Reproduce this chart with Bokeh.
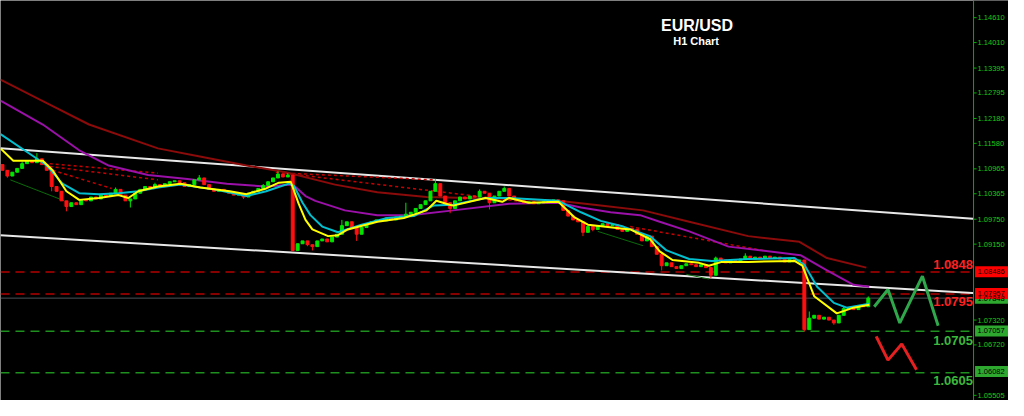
from bokeh.plotting import figure
from bokeh.models import ColumnDataSource, Range1d, Span
from bokeh.core.properties import value
from bokeh.embed import file_html
from bokeh.resources import INLINE

# ---------------- data (EUR/USD, H1) ----------------
first_open = 1.11068
closes = [
    1.10930, 1.10792, 1.10884, 1.10976, 1.11091, 1.11160, 1.11114, 1.11206, 1.11068, 1.10930,
    1.10539, 1.10424, 1.10194, 1.10056, 1.10148, 1.10102, 1.10217, 1.10194, 1.10286, 1.10240,
    1.10332, 1.10309, 1.10378, 1.10470, 1.10332, 1.10194, 1.10240, 1.10378, 1.10470, 1.10539,
    1.10516, 1.10585, 1.10539, 1.10608, 1.10654, 1.10677, 1.10631, 1.10539, 1.10585, 1.10700,
    1.10746, 1.10585, 1.10470, 1.10424, 1.10470, 1.10424, 1.10378, 1.10332, 1.10355, 1.10286,
    1.10378, 1.10424, 1.10493, 1.10562, 1.10654, 1.10746, 1.10838, 1.10769, 1.10815, 1.08998,
    1.09159, 1.09228, 1.09136, 1.09090, 1.09228, 1.09274, 1.09205, 1.09320, 1.09389, 1.09596,
    1.09688, 1.09550, 1.09389, 1.09550, 1.09642, 1.09688, 1.09734, 1.09711, 1.09780, 1.09734,
    1.09803, 1.09826, 1.09872, 1.09918, 1.10010, 1.10102, 1.10194, 1.10424, 1.10608, 1.10309,
    1.10148, 1.10010, 1.10194, 1.10286, 1.10240, 1.10309, 1.10286, 1.10424, 1.10378, 1.10148,
    1.10309, 1.10424, 1.10493, 1.10309, 1.10240, 1.10194, 1.10148, 1.10171, 1.10125, 1.10148,
    1.10171, 1.10194, 1.10217, 1.10194, 1.09964, 1.09826, 1.09734, 1.09688, 1.09435, 1.09573,
    1.09504, 1.09596, 1.09642, 1.09596, 1.09619, 1.09504, 1.09458, 1.09527, 1.09504, 1.09389,
    1.09228, 1.09343, 1.09090, 1.08906, 1.08630, 1.08699, 1.08607, 1.08561, 1.08630, 1.08676,
    1.08653, 1.08607, 1.08653, 1.08584, 1.08400, 1.08814, 1.08768, 1.08699, 1.08768, 1.08722,
    1.08791, 1.08860, 1.08791, 1.08837, 1.08814, 1.08860, 1.08814, 1.08837, 1.08791, 1.08722,
    1.08791, 1.08745, 1.08768, 1.07089, 1.07365, 1.07434, 1.07342, 1.07388, 1.07319, 1.07250,
    1.07434, 1.07595, 1.07618, 1.07572, 1.07664, 1.07641, 1.07848,
]
wick_highs = {4: 1.11140, 7: 1.11344, 23: 1.10516, 31: 1.10630, 40: 1.10815, 53: 1.10600,
              56: 1.10907, 58: 1.10860, 69: 1.09734, 82: 1.10148, 88: 1.10723, 97: 1.10470,
              102: 1.10540, 145: 1.08850, 151: 1.08929, 164: 1.07526, 171: 1.07640, 176: 1.07890}
wick_lows = {1: 1.10750, 10: 1.10424, 13: 1.09941, 26: 1.10033, 49: 1.10240, 59: 1.08975,
             62: 1.09100, 63: 1.08998, 72: 1.09228, 91: 1.09895, 99: 1.09987, 118: 1.09343,
             120: 1.09460, 134: 1.08515, 144: 1.08331, 163: 1.07043, 164: 1.07181, 169: 1.07204}

# moving averages (bar index, price)
ma_slow_x = [0, 8, 18, 32, 40, 50, 58, 68, 76.6, 86.6, 104, 113.4, 122, 130.6, 140, 152, 162.4, 168, 176]
ma_slow_y = [1.13115, 1.12632, 1.12034, 1.11459, 1.11275, 1.11045, 1.10884, 1.10585, 1.10401, 1.10286,
             1.10240, 1.10194, 1.10079, 1.09964, 1.09688, 1.09343, 1.09205, 1.08814, 1.08584]
ma_mid_x = [0, 8.6, 16, 22, 30, 38, 46, 54, 59.4, 62, 64, 70, 76.6, 83.4, 92, 103.4, 113.4, 118, 124,
            130, 134, 140, 148, 162.6, 168, 173.4, 176.6]
ma_mid_y = [1.12609, 1.12034, 1.11413, 1.11045, 1.10815, 1.10723, 1.10608, 1.10539, 1.10585, 1.10309,
            1.10194, 1.09964, 1.09849, 1.09849, 1.09964, 1.10125, 1.10148, 1.10033, 1.09918, 1.09849,
            1.09688, 1.09458, 1.09090, 1.08883, 1.08515, 1.08170, 1.08124]
ma_fast_x = [0, 6.6, 9.4, 12.6, 16, 20, 24, 28, 32, 36.6, 43.4, 50, 54, 58.6, 59.6, 61.4, 63, 65.4,
             68.6, 73.4, 78.6, 84, 88, 92, 98.6, 103.4, 113.4, 118, 122, 126.6, 132, 135.4, 140,
             144.6, 152, 161.4, 163.4, 166, 169.4, 172, 176.6]
ma_fast_y = [1.11804, 1.11275, 1.11045, 1.10608, 1.10378, 1.10355, 1.10378, 1.10424, 1.10516, 1.10585,
             1.10470, 1.10309, 1.10424, 1.10608, 1.10562, 1.10148, 1.09849, 1.09573, 1.09435, 1.09619,
             1.09780, 1.09826, 1.10079, 1.10102, 1.10263, 1.10263, 1.10194, 1.09918, 1.09711, 1.09573,
             1.09343, 1.08998, 1.08791, 1.08745, 1.08791, 1.08814, 1.08653, 1.08124, 1.07733, 1.07618,
             1.07710]
ma_fastest_x = [0, 2.6, 8.6, 10.6, 13.4, 16, 20, 24, 26, 28, 32, 36.6, 40.6, 46.6, 50, 54, 56.6, 59,
                60.6, 62, 63.4, 66.6, 68.6, 70.6, 76.6, 82, 86.6, 88.6, 90.6, 92, 98.6, 102, 103.4,
                107.4, 113.4, 116.6, 119.4, 128, 132, 134, 136.6, 142, 144, 146.6, 152, 161.4, 163,
                165.4, 170, 173.4, 176.6]
ma_fastest_y = [1.11459, 1.11160, 1.11160, 1.10930, 1.10424, 1.10217, 1.10263, 1.10332, 1.10263, 1.10424,
                1.10539, 1.10608, 1.10516, 1.10424, 1.10355, 1.10493, 1.10631, 1.10654, 1.10125, 1.09734,
                1.09504, 1.09343, 1.09366, 1.09504, 1.09688, 1.09780, 1.09964, 1.10194, 1.10125, 1.10079,
                1.10263, 1.10171, 1.10263, 1.10148, 1.10171, 1.09803, 1.09619, 1.09504, 1.09274, 1.08975,
                1.08768, 1.08699, 1.08630, 1.08722, 1.08722, 1.08745, 1.08630, 1.07894, 1.07480, 1.07618,
                1.07687]

# channel lines
channel_x = [0, 198.4]
channel_upper = [1.11459, 1.09757]
channel_lower = [1.09366, 1.07963]

# dotted trend lines (red) and thin support lines (dark green)
trend_x0 = [10, 10.6, 10, 56, 58, 128]
trend_y0 = [1.11022, 1.10930, 1.11091, 1.10884, 1.10861, 1.09573]
trend_x1 = [32, 22.6, 32, 108, 88, 155]
trend_y1 = [1.10700, 1.10493, 1.10861, 1.10148, 1.10700, 1.08998]
support_x0 = [2, 121.4, 139.4]
support_y0 = [1.10700, 1.09458, 1.08423]
support_x1 = [13, 130.6, 144]
support_y1 = [1.10194, 1.09113, 1.08308]

# levels
level_values = [1.0848, 1.0795, 1.0705, 1.0605]
level_labels = ["1.0848", "1.0795", "1.0705", "1.0605"]
level_label_y = [1.08653, 1.07756, 1.06836, 1.05870]
level_colors = ["#b40000", "#b40000", "#1f8f1f", "#1f8f1f"]
level_text_colors = ["#ff2020", "#ff2020", "#3cb83c", "#3cb83c"]
current_price = 1.07848

# projected scenarios
up_x = [177.6, 180.4, 182.8, 187.4, 190.6]
up_y = [1.07641, 1.08055, 1.07250, 1.08377, 1.07181]
down_x = [178, 180.4, 183.2, 186.2]
down_y = [1.06928, 1.06353, 1.06744, 1.06123]

# price scale (right)
scale_ticks = [1.14610, 1.14010, 1.13395, 1.12795, 1.12180, 1.11580, 1.10965, 1.10365,
               1.09750, 1.09150, 1.07320, 1.06720, 1.05505]
box_values = [1.08486, 1.07848, 1.07957, 1.07057, 1.06082]
box_colors = ["#ff0000", "#2ea82e", "#ff0000", "#2ea82e", "#2ea82e"]

title_text = "EUR/USD"
subtitle_text = "H1 Chart"

# ---------------- build ----------------
W, H = 1008, 400
X_END = 204.9          # full canvas width in bar units
AXIS_X = 197.8         # price scale line position
PX = X_END / W         # one pixel in bar units
Y0, Y1 = 1.05380, 1.15024
PY = (Y1 - Y0) / H     # one pixel in price units

n = len(closes)
opens = [first_open] + closes[:-1]
xs = [0.4 + i for i in range(n)]
highs = [max(o, c) for o, c in zip(opens, closes)]
lows = [min(o, c) for o, c in zip(opens, closes)]
for k, v in wick_highs.items():
    highs[k] = max(highs[k], v)
for k, v in wick_lows.items():
    lows[k] = min(lows[k], v)
cols = ["#00e600" if c >= o else "#ff1010" for o, c in zip(opens, closes)]
src = ColumnDataSource(dict(x=xs, open=opens, close=closes, high=highs, low=lows, color=cols))

p = figure(width=W, height=H, output_backend="svg", toolbar_location=None,
           x_range=Range1d(0, X_END), y_range=Range1d(Y0, Y1),
           x_axis_location=None, y_axis_location=None,
           background_fill_color="black", border_fill_color="black",
           min_border=0)
p.grid.visible = False
p.outline_line_color = None

for val, col in zip(level_values, level_colors):
    p.add_layout(Span(location=val, dimension="width", line_color=col, line_width=1.5,
                      line_dash="9 6", level="underlay"))
p.add_layout(Span(location=current_price, dimension="width", line_color="#4a525a",
                  line_width=1, level="underlay"))

p.line(channel_x, channel_upper, line_color="#e8e8e8", line_width=2)
p.line(channel_x, channel_lower, line_color="#e8e8e8", line_width=2)
p.segment(support_x0, support_y0, support_x1, support_y1, line_color="#0a6a0a", line_width=1)
p.segment(trend_x0, trend_y0, trend_x1, trend_y1, line_color="#c80000", line_width=1.5, line_dash="3 3")

p.line(ma_slow_x, ma_slow_y, line_color="#8b0a0a", line_width=2)
p.line(ma_mid_x, ma_mid_y, line_color="#9a10a8", line_width=2)

p.segment("x", "high", "x", "low", source=src, line_color="color", line_width=1)
p.vbar(x="x", width=0.6, top="open", bottom="close", source=src, fill_color="color",
       line_color="color", line_width=1)

p.line(ma_fast_x, ma_fast_y, line_color="#00c0d0", line_width=2)
p.line(ma_fastest_x, ma_fastest_y, line_color="#ffff00", line_width=2)

p.line(up_x, up_y, line_color="#2ea84a", line_width=3)
p.line(down_x, down_y, line_color="#e52020", line_width=3)

p.text([189.6] * len(level_labels), level_label_y, text=level_labels, text_color=level_text_colors,
       text_font=value("Liberation Sans"), text_font_style="bold", text_font_size="13px",
       text_baseline="middle", text_align="left")
p.text([141.6], [1.14410], text=[title_text], text_color="white", text_font=value("Liberation Sans"),
       text_font_style="bold", text_font_size="16px", text_baseline="middle", text_align="center")
p.text([141.4], [1.14051], text=[subtitle_text], text_color="white", text_font=value("Liberation Sans"),
       text_font_style="bold", text_font_size="11px", text_baseline="middle", text_align="center")

# price scale: black strip, green line, ticks and labels
p.quad(left=[AXIS_X], right=[X_END], bottom=[Y0], top=[Y1], fill_color="black", line_color=None)
p.add_layout(Span(location=AXIS_X, dimension="height", line_color="#00b000", line_width=1))
p.segment([AXIS_X] * len(scale_ticks), scale_ticks, [AXIS_X + 3 * PX] * len(scale_ticks), scale_ticks,
          line_color="#00b000", line_width=1)
p.text([AXIS_X + 4 * PX] * len(scale_ticks), scale_ticks, text=[f"{v:.5f}" for v in scale_ticks],
       text_color="#19c819", text_font=value("Liberation Sans"), text_font_size="7.5px",
       text_baseline="middle", text_align="left")
p.quad(left=[AXIS_X + 1.5 * PX] * len(box_values), right=[X_END] * len(box_values),
       bottom=[v - 5.5 * PY for v in box_values], top=[v + 5.5 * PY for v in box_values],
       fill_color=box_colors, line_color=None)
p.text([AXIS_X + 4 * PX] * len(box_values), box_values, text=[f"{v:.5f}" for v in box_values],
       text_color="#000000", text_font=value("Liberation Sans"), text_font_size="7.5px",
       text_baseline="middle", text_align="left")

open("out.html", "w").write(file_html(p, INLINE))
